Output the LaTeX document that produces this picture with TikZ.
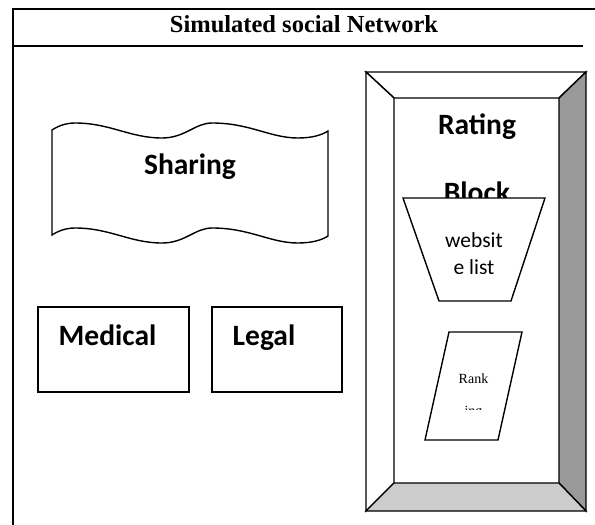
\documentclass[tikz,border=0pt]{standalone}
\usepackage{xcolor}
\usepackage{fontspec}
\setmainfont{Liberation Serif}
\newfontfamily\calibri{Carlito}
\usepackage{tikz}

\tikzset{
    frame/.style={line width=2pt},
    outline/.style={draw, line width=1.4pt, fill=white},
    bold/.style={font=\calibri\bfseries\fontsize{29.5}{35}\selectfont, anchor=base},
}

\begin{document}
\begin{tikzpicture}[x=1pt,y=-1pt]
    \useasboundingbox (0,0) rectangle (595,525);

    % Outer frame and title
    \draw[frame] (12.5,525) -- (12.5,9) -- (595,9);
    \draw[frame] (13,46) -- (583,46);
    \node[anchor=base] (title) at (304,32) {\fontsize{24.5}{30}\selectfont\bfseries Simulated social Network};

    % Wavy sharing block
    \draw[outline] (52,130) .. controls (58,126) and (66,123) .. (75,123)
        .. controls (110,123) and (130,138) .. (162,138)
        .. controls (185,138) and (195,123) .. (212,123)
        .. controls (250,123) and (270,138) .. (298,138)
        .. controls (312,138) and (322,135) .. (328,131)
        -- (328,236)
        .. controls (322,240) and (312,243) .. (298,243)
        .. controls (270,243) and (250,228) .. (212,228)
        .. controls (195,228) and (185,243) .. (162,243)
        .. controls (130,243) and (110,228) .. (75,228)
        .. controls (66,228) and (58,231) .. (52,235) -- cycle;
    \node[bold] (sharing) at (190,174) {Sharing};

    % Medical and legal boxes
    \foreach \x/\w/\cx/\name in {38/151/107.5/Medical, 212/130/264/Legal} {
        \draw[outline] (\x,307) rectangle ++(\w,85);
        \node[bold] (\name) at (\cx,345) {\name};
    }

    % Bevelled rating block
    \draw[outline] (366,72) -- (586,72) -- (559,98) -- (394,98) -- cycle;
    \draw[outline] (366,72) -- (394,98) -- (394,483) -- (366,511) -- cycle;
    \draw[outline, fill=black!40] (586,72) -- (586,511) -- (559,483) -- (559,98) -- cycle;
    \draw[outline, fill=black!20] (366,511) -- (586,511) -- (559,483) -- (394,483) -- cycle;
    \node[bold] (rating) at (477,134) {Rating};
    \node[bold] (block) at (477,202) {Block};

    % Website list
    \draw[outline] (403,198) -- (545,198) -- (511,301) -- (439,301) -- cycle;
    \begin{scope}
        \clip (403,198) rectangle (545,273.5);
        \node[anchor=base] (site) at (474,247) {\calibri\fontsize{21.5}{26}\selectfont websit};
        \node[anchor=base] (list) at (474,274) {\calibri\fontsize{21.5}{26}\selectfont e list};
    \end{scope}

    % Ranking
    \draw[outline] (449,332) -- (522,332) -- (498,440) -- (425,440) -- cycle;
    \begin{scope}
        \clip (425,332) rectangle (522,409.5);
        \node[anchor=base] (rank) at (473.5,383) {\fontsize{14}{17}\selectfont Rank};
        \node[anchor=base] (ing) at (473.5,415.5) {\fontsize{14}{17}\selectfont ing};
    \end{scope}
\end{tikzpicture}
\end{document}
